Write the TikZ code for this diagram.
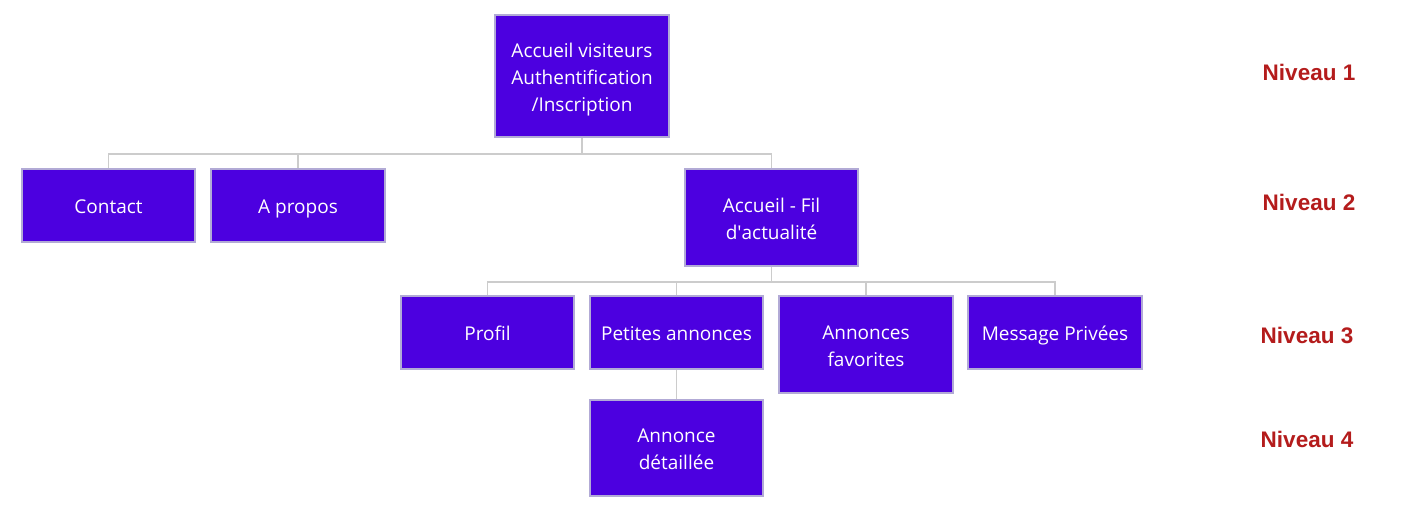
\documentclass[tikz,border=0pt]{standalone}
\usepackage{fontspec}
\setmainfont{Open Sans}
\newfontfamily\lblfont{Liberation Sans}
\newcommand\mystrut{\rule[-4.4pt]{0pt}{25.4pt}}
\definecolor{boxfill}{RGB}{76,0,224}
\definecolor{boxline}{RGB}{178,170,214}
\definecolor{linkc}{RGB}{204,204,204}
\definecolor{lvlc}{RGB}{180,28,28}
\tikzset{
  pg/.style={draw=boxline, line width=2pt, fill=boxfill, text=white, inner sep=0pt,
    align=center, font=\fontsize{19}{27}\selectfont, minimum width=173pt},
  sbox/.style={pg, minimum height=73pt},
  tbox/.style={pg, minimum height=97pt},
  link/.style={draw=linkc, line width=1.6pt},
  lvl/.style={text=lvlc, font=\lblfont\bfseries\fontsize{22.5}{26}\selectfont, inner sep=0pt}
}
\begin{document}
\begin{tikzpicture}[x=1pt,y=-1pt]
\useasboundingbox (0,0) rectangle (1419,526);
\node[pg, minimum width=174pt, minimum height=122pt] (home) at (582,76) {\mystrut Accueil visiteurs\\Authentification\\/Inscription\mystrut};
\node[sbox] (contact) at (108.5,205.5) {\mystrut Contact};
\node[sbox, minimum width=174pt] (apropos) at (298,205.5) {\mystrut A propos};
\node[tbox] (fil) at (771.5,217.5) {\mystrut Accueil - Fil\\d\textquotesingle actualité\mystrut};
\node[sbox] (profil) at (487.5,332.5) {\mystrut Profil};
\node[sbox] (petites) at (676.5,332.5) {\mystrut Petites annonces};
\node[tbox, minimum width=174pt] (fav) at (866,344.5) {\mystrut Annonces\\favorites\mystrut};
\node[sbox, minimum width=174pt] (msg) at (1055,332.5) {\mystrut Message Privées};
\node[tbox, minimum height=96pt] (detail) at (676.5,448) {\mystrut Annonce\\ détaillée\mystrut};
\coordinate (b1) at (582,154);
\coordinate (b2) at (771.5,282);
\draw[link] (home.south) -- (b1);
\draw[link] (contact.north) |- (b1) -| (fil.north);
\draw[link] (apropos.north) -- (apropos.north |- b1);
\draw[link] (fil.south) -- (b2);
\draw[link] (profil.north) |- (b2) -| (msg.north);
\draw[link] (petites.north) -- (petites.north |- b2);
\draw[link] (fav.north) -- (fav.north |- b2);
\draw[link] (petites.south) -- (detail.north);
\node[lvl] (n1) at (1309,72) {Niveau 1};
\node[lvl] (n2) at (1309,202) {Niveau 2};
\node[lvl] (n3) at (1307,335) {Niveau 3};
\node[lvl] (n4) at (1307,439) {Niveau 4};
\end{tikzpicture}
\end{document}
